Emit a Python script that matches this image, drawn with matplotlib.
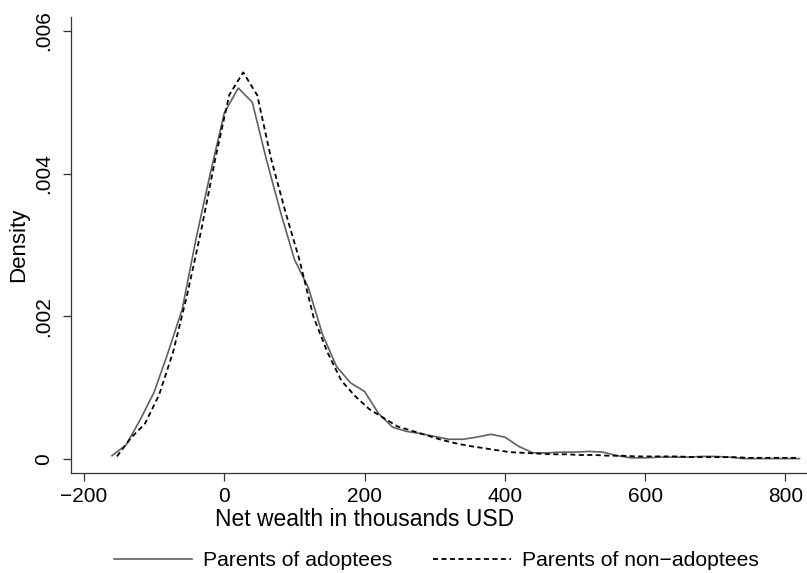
import matplotlib.pyplot as plt
from matplotlib.ticker import FixedLocator, FixedFormatter

plt.rcParams['font.family'] = ['Liberation Sans', 'DejaVu Sans']

# kernel density, parents of adoptees (solid grey)
x_adopt = [-160, -140, -120, -100, -80, -60, -40, -20, 0, 20,
           40, 60, 80, 100, 120, 140, 160, 180, 200, 220,
           240, 260, 280, 300, 320, 340, 360, 380, 400, 420,
           440, 460, 480, 500, 520, 540, 560, 580, 600, 620,
           640, 660, 680, 700, 720, 740, 760, 780, 800, 820]
d_adopt = [0.00005, 0.00020, 0.00055, 0.00094, 0.00150, 0.00210, 0.00310, 0.00400, 0.00485, 0.00520,
           0.00500, 0.00420, 0.00347, 0.00280, 0.00240, 0.00175, 0.00130, 0.00107, 0.00095, 0.00064,
           0.00045, 0.00039, 0.00036, 0.00032, 0.00028, 0.00028, 0.00031, 0.00035, 0.00031, 0.00018,
           0.00009, 0.00009, 0.00010, 0.00010, 0.00011, 0.00010, 0.00005, 0.00002, 0.00002, 0.00003,
           0.00003, 0.00003, 0.00004, 0.00004, 0.00003, 0.00001, 0.00001, 0.00001, 0.00001, 0.00001]

# kernel density, parents of non-adoptees (dashed black)
x_non = [-153, -133, -113, -93, -73, -53, -33, -13, 7, 27,
         47, 67, 87, 107, 127, 147, 167, 187, 207, 227,
         247, 267, 287, 307, 327, 347, 367, 387, 407, 427,
         447, 467, 487, 507, 527, 547, 567, 587, 607, 627,
         647, 667, 687, 707, 727, 747, 767, 787, 807, 817]
d_non = [0.00004, 0.00030, 0.00050, 0.00090, 0.00150, 0.00230, 0.00320, 0.00420, 0.00510, 0.00542,
         0.00510, 0.00420, 0.00347, 0.00280, 0.00200, 0.00150, 0.00110, 0.00088, 0.00070, 0.00058,
         0.00046, 0.00040, 0.00034, 0.00028, 0.00023, 0.00019, 0.00016, 0.00013, 0.00010, 0.00009,
         0.00008, 0.00007, 0.00007, 0.00006, 0.00006, 0.00005, 0.00005, 0.00004, 0.00004, 0.00004,
         0.00004, 0.00003, 0.00003, 0.00003, 0.00003, 0.00002, 0.00002, 0.00002, 0.00002, 0.00002]

x_ticks = [-200, 0, 200, 400, 600, 800]
x_tick_labels = ['\u2212200', '0', '200', '400', '600', '800']
y_ticks = [0, 0.002, 0.004, 0.006]
y_tick_labels = ['0', '.002', '.004', '.006']

fig = plt.figure(figsize=(8.07, 5.73), dpi=100)
ax = fig.add_axes([70.5 / 807, 1 - 472.7 / 573, 1 - 70.5 / 807, (472.7 - 17) / 573])

ax.plot(x_adopt, d_adopt, color='#606060', lw=1.2, label='Parents of adoptees')
ax.plot(x_non, d_non, color='black', lw=1.3, linestyle=(0, (2.8, 1.9)),
        label='Parents of non\u2212adoptees')

ax.set_xlim(-219.2, 830.7)
ax.set_ylim(-0.000188, 0.006195)

for s in ['top', 'right']:
    ax.spines[s].set_visible(False)
for s in ['left', 'bottom']:
    ax.spines[s].set_color('#333333')
    ax.spines[s].set_linewidth(0.9)

ax.xaxis.set_major_locator(FixedLocator(x_ticks))
ax.xaxis.set_major_formatter(FixedFormatter(x_tick_labels))
ax.yaxis.set_major_locator(FixedLocator(y_ticks))
ax.yaxis.set_major_formatter(FixedFormatter(y_tick_labels))
ax.tick_params(axis='both', direction='out', length=5.5, width=0.9, color='#333333', labelsize=15)
ax.tick_params(axis='x', pad=4.5)
ax.tick_params(axis='y', pad=7)
for lab in ax.get_yticklabels():
    lab.set_rotation(90)
    lab.set_va('center')

ax.set_xlabel('Net wealth in thousands USD', fontsize=16.5)
ax.xaxis.set_label_coords((365 - 70.5) / (807 - 70.5), -(508 - 472.7) / (472.7 - 17))
ax.xaxis.label.set_va('top')
ax.set_ylabel('Density', fontsize=16)
ax.yaxis.set_label_coords(-(70.5 - 18.5) / (807 - 70.5), 0.5)
ax.yaxis.label.set_va('center')

fig.legend(loc='center', bbox_to_anchor=(436.5 / 807, 1 - 561 / 573), ncol=2, frameon=False,
           fontsize=15.2, handlelength=3.7, handletextpad=0.55, columnspacing=1.9)

fig.savefig('out.png', dpi=100)
